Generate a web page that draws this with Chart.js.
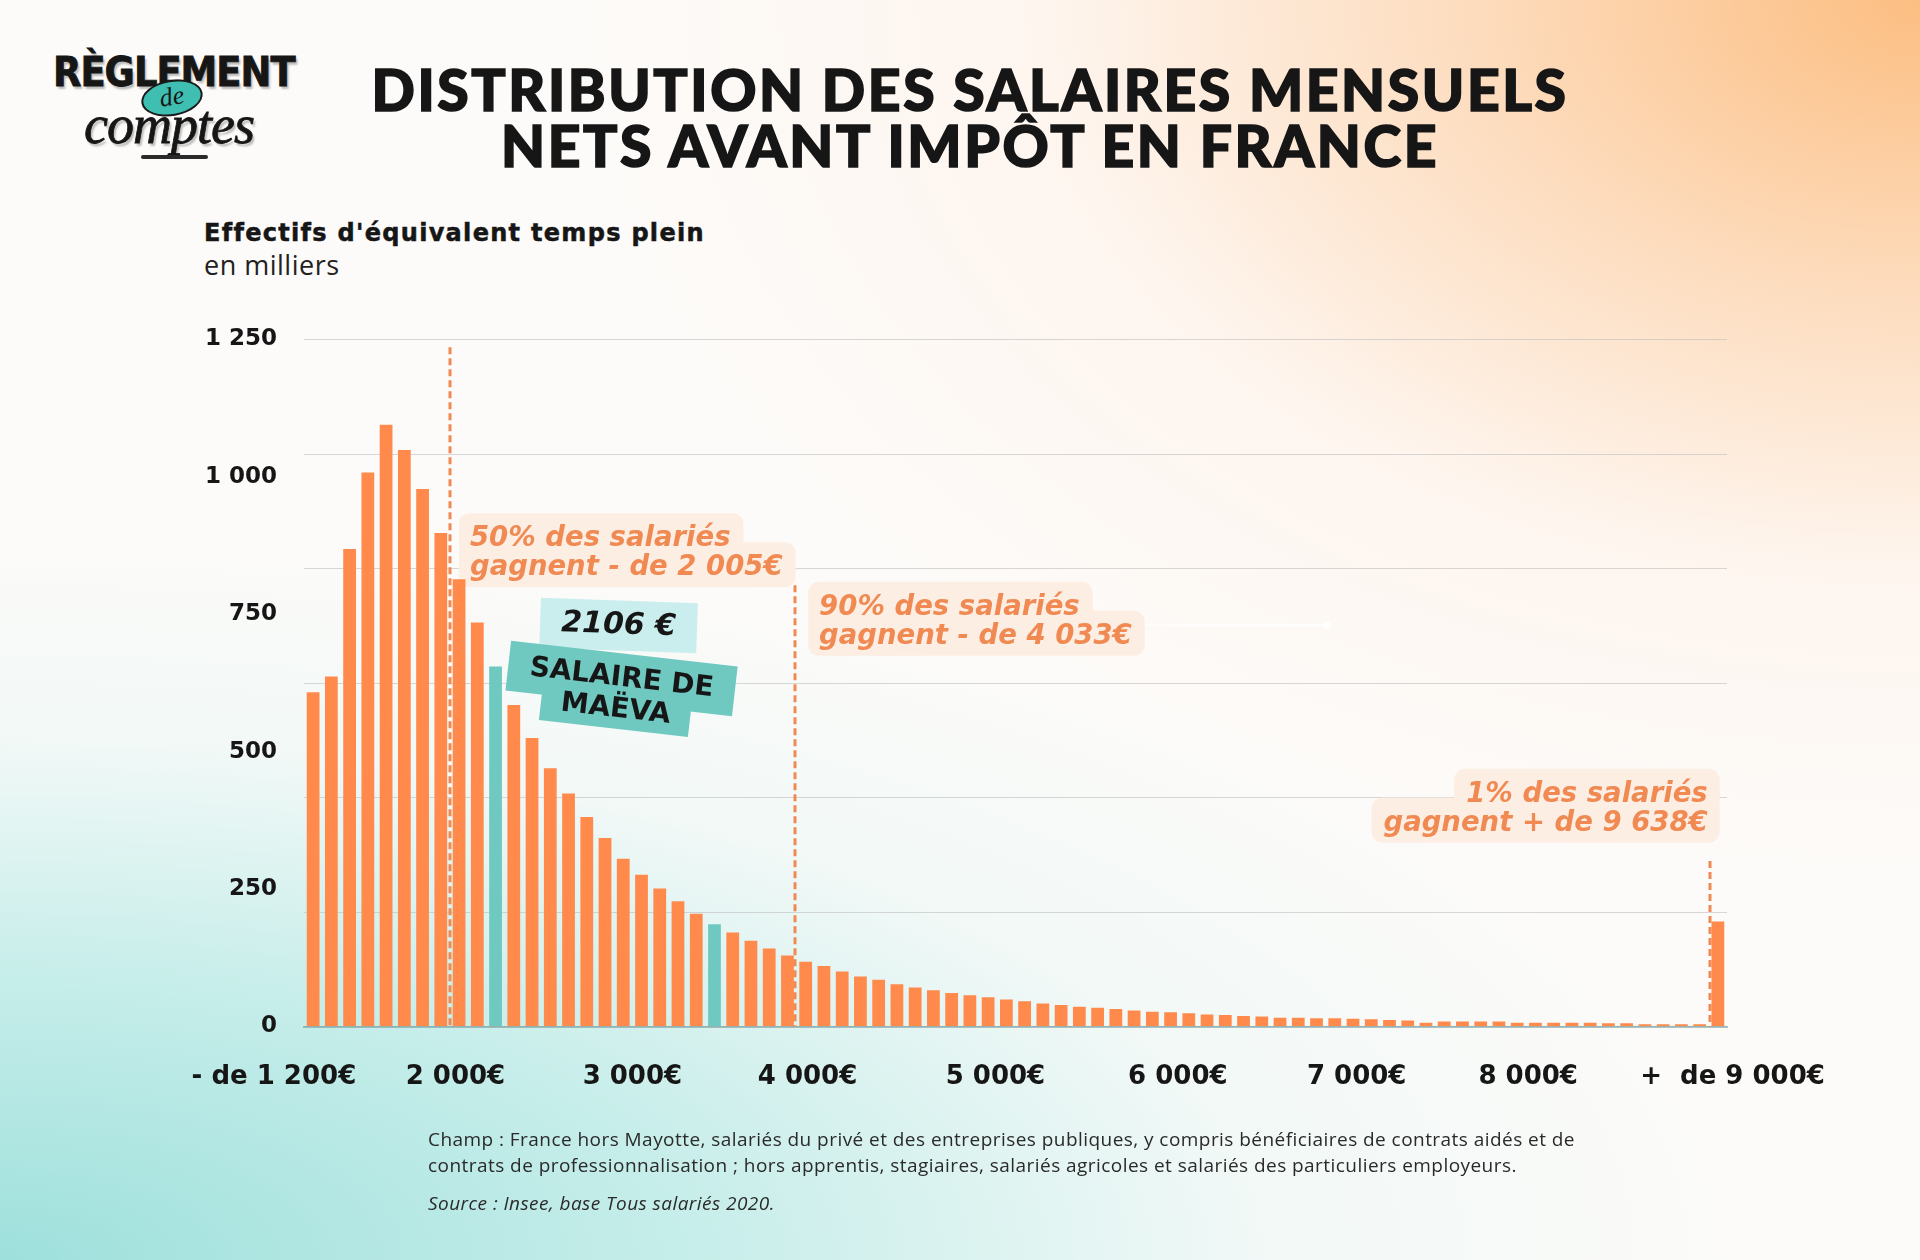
<!DOCTYPE html>
<html lang="fr">
<head>
  <title>Distribution des salaires mensuels nets avant impôt en France</title>
  <meta charset="UTF-8">
  <script src="https://cdn.jsdelivr.net/npm/chart.js@4.4.1/dist/chart.umd.min.js"></script>

  <style>
    * {
      margin: 0;
      padding: 0;
      box-sizing: border-box;
    }

    html, body {
      width: 1920px;
      height: 1260px;
      overflow: hidden;
    }

    body {
      position: relative;
      font-family: 'DejaVu Sans', sans-serif;
      color: #161616;
      background:
        radial-gradient(ellipse 1350px 880px at 100% 0%, rgba(252,190,130,1) 0%, rgba(253,212,174,0.8) 33%, rgba(255,236,222,0.38) 65%, rgba(255,255,255,0) 100%),
        radial-gradient(ellipse 1800px 740px at 0% 100%, rgba(158,224,220,1) 0%, rgba(184,234,230,0.8) 38%, rgba(220,244,243,0.35) 70%, rgba(255,255,255,0) 100%),
        #fdfbf9;
    }

    #chartCanvas {
      position: absolute;
      left: 0;
      top: 0;
    }

    /* logo */
    .logo-top {
      position: absolute;
      left: 53px;
      top: 52px;
      font-family: 'DejaVu Sans Condensed', 'Liberation Sans Narrow', sans-serif;
      font-weight: bold;
      font-size: 41px;
      letter-spacing: -1px;
      line-height: 1;
      -webkit-text-stroke: 0.8px #161616;
      text-shadow: 2px 3px 2px rgba(0,0,0,0.25);
    }
    .logo-de {
      position: absolute;
      left: 141px;
      top: 80px;
      width: 62px;
      height: 36px;
      border-radius: 50%;
      background: #3fbfb2;
      border: 2px solid #1a1a1a;
      transform: rotate(-10deg);
      font-family: 'Liberation Serif', serif;
      font-style: italic;
      font-size: 26px;
      line-height: 30px;
      text-align: center;
    }
    .logo-comptes {
      position: absolute;
      left: 84px;
      top: 98px;
      font-family: 'Liberation Serif', serif;
      font-style: italic;
      font-size: 54px;
      line-height: 1;
      letter-spacing: -1px;
      -webkit-text-stroke: 0.8px #161616;
      text-shadow: 2px 3px 2px rgba(0,0,0,0.25);
    }
    .logo-swoosh {
      position: absolute;
      left: 141px;
      top: 155px;
      width: 67px;
      height: 4px;
      border-radius: 3px;
      background: #2a2a2a;
    }

    h1 {
      position: absolute;
      left: 20px;
      top: 61px;
      width: 1900px;
      text-align: center;
      font-family: 'Lato', sans-serif;
      font-weight: 900;
      font-size: 57px;
      line-height: 56px;
      letter-spacing: 2.6px;
      -webkit-text-stroke: 1.6px #161616;
    }

    .axis-title {
      position: absolute;
      left: 204px;
      top: 219px;
      font-weight: bold;
      font-size: 24px;
      letter-spacing: 1.3px;
      line-height: 28px;
      -webkit-text-stroke: 0.5px #161616;
    }
    .axis-unit {
      position: absolute;
      left: 204px;
      top: 251px;
      font-family: 'Open Sans', sans-serif;
      font-size: 27px;
      letter-spacing: 0.5px;
      line-height: 28px;
      color: #222;
    }

    .footnote {
      position: absolute;
      left: 428px;
      top: 1126px;
      font-family: 'Open Sans', sans-serif;
      font-size: 19px;
      letter-spacing: 0.45px;
      line-height: 26px;
      color: #2a2a2a;
    }
    .footnote .source {
      margin-top: 12px;
      font-style: italic;
    }
  </style>
</head>
<body>

  <div class="logo-top">RÈGLEMENT</div>
  <div class="logo-de">de</div>
  <div class="logo-comptes">comptes</div>
  <div class="logo-swoosh"></div>

  <h1>DISTRIBUTION DES SALAIRES MENSUELS<br>NETS AVANT IMPÔT EN FRANCE</h1>

  <div class="axis-title">Effectifs d'équivalent temps plein</div>
  <div class="axis-unit">en milliers</div>

  <canvas id="chartCanvas" width="1920" height="1260"></canvas>

  <div class="footnote">
    Champ : France hors Mayotte, salariés du privé et des entreprises publiques, y compris bénéficiaires de contrats aidés et de<br>
    contrats de professionnalisation ; hors apprentis, stagiaires, salariés agricoles et salariés des particuliers employeurs.
    <div class="source">Source : Insee, base Tous salariés 2020.</div>
  </div>

  <script>

    // salary bins (100 € wide) - first is "less than 1 200", last is "more than 9 000"
    var bins = ['- de 1 200', '1 200', '1 300', '1 400', '1 500', '1 600', '1 700', '1 800', '1 900',
      '2 000', '2 100', '2 200', '2 300', '2 400', '2 500', '2 600', '2 700', '2 800', '2 900',
      '3 000', '3 100', '3 200', '3 300', '3 400', '3 500', '3 600', '3 700', '3 800', '3 900',
      '4 000', '4 100', '4 200', '4 300', '4 400', '4 500', '4 600', '4 700', '4 800', '4 900',
      '5 000', '5 100', '5 200', '5 300', '5 400', '5 500', '5 600', '5 700', '5 800', '5 900',
      '6 000', '6 100', '6 200', '6 300', '6 400', '6 500', '6 600', '6 700', '6 800', '6 900',
      '7 000', '7 100', '7 200', '7 300', '7 400', '7 500', '7 600', '7 700', '7 800', '7 900',
      '8 000', '8 100', '8 200', '8 300', '8 400', '8 500', '8 600', '8 700', '+ de 9 000'];

    // full-time equivalent headcount, in thousands
    var effectifs = [608, 637, 869, 1008, 1095, 1049, 978, 898, 814, 735,
      655, 585, 525, 470, 424, 381, 343, 305, 276, 251,
      228, 205, 186, 171, 156, 142, 129, 118, 110, 100,
      91, 85, 77, 71, 66, 61, 57, 53, 49, 46,
      42, 39, 36, 34, 32, 29, 27, 26, 24, 22,
      21, 19, 18, 16, 16, 15, 15, 14, 13, 12,
      11, 7, 9, 9, 9, 9, 7, 7, 7, 7,
      7, 6, 6, 4, 4, 4, 4, 191];

    var highlighted = [10, 22];   // bars drawn in teal

    var yLabelValues = [0, 250, 500, 750, 1000, 1250];
    var yMax = 1250;
    var gridDivisions = 6;

    var xTickLabels = ['- de 1 200€', '2 000€', '3 000€', '4 000€', '5 000€', '6 000€', '7 000€', '8 000€', '+  de 9 000€'];
    var xTickPos = [-2.15, 7.8, 17.5, 27.1, 37.4, 47.4, 57.2, 66.6, 77.8];

    // dashed reference lines: bar position, top value
    var refLines = [
      { x: 7.5, top: 1236 },
      { x: 26.42, top: 803 },
      { x: 76.55, top: 301 }
    ];

    var notes = [
      { line: 0, dx: 20, y: 874, align: 'left', text: ['50% des salariés', 'gagnent - de 2 005€'] },
      { line: 1, dx: 24, y: 749, align: 'left', text: ['90% des salariés', 'gagnent - de 4 033€'] },
      { line: 2, dx: -2, y: 409, align: 'right', text: ['1% des salariés', 'gagnent + de 9 638€'] }
    ];

    var ORANGE = '#ff8a4b';
    var TEAL = '#70c9c1';
    var NOTE_TEXT = '#f08a52';
    var NOTE_BG = '#fdeee4';

    var barColors = effectifs.map(function (v, i) {
      return highlighted.indexOf(i) >= 0 ? TEAL : ORANGE;
    });

    function fmt(v) {
      return String(v).replace(/\B(?=(\d{3})+(?!\d))/g, ' ');
    }

    function isLabelValue(v) {
      return yLabelValues.some(function (l) { return Math.abs(l - v) < 0.01; });
    }

    function isGridValue(v) {
      var step = yMax / gridDivisions;
      var k = Math.round(v / step);
      return Math.abs(k * step - v) < 0.01;
    }

    /************************************************************************
                          annotations (dashed lines, boxes)
    *************************************************************************/
    function drawNotes(chart, pass) {
      var ctx = chart.ctx;
      var xs = chart.scales.xLab;
      var ys = chart.scales.y;
      ctx.save();
      ctx.font = 'italic bold 27.5px "DejaVu Sans"';
      notes.forEach(function (n) {
        var x = xs.getPixelForValue(refLines[n.line].x) + n.dx;
        var y0 = ys.getPixelForValue(n.y);
        n.text.forEach(function (t, i) {
          var w = ctx.measureText(t).width;
          var base = y0 + i * 29;
          if (pass === 'bg') {
            var bx = n.align === 'right' ? x - w - 12 : x - 11;
            ctx.fillStyle = NOTE_BG;
            ctx.beginPath();
            ctx.roundRect(bx, base - 33, w + 24, 45, 11);
            ctx.fill();
          } else {
            ctx.fillStyle = NOTE_TEXT;
            ctx.textAlign = n.align;
            ctx.textBaseline = 'alphabetic';
            ctx.fillText(t, x, base);
          }
        });
      });
      ctx.restore();
    }

    function drawTag(ctx, cx, cy, w, h, angle, bg, lines, font, lineGap) {
      ctx.save();
      ctx.translate(cx, cy);
      ctx.rotate(angle * Math.PI / 180);
      ctx.fillStyle = bg;
      ctx.fillRect(-w / 2, -h / 2, w, h);
      ctx.fillStyle = '#161616';
      ctx.font = font;
      ctx.textAlign = 'center';
      ctx.textBaseline = 'middle';
      lines.forEach(function (t, i) {
        ctx.fillText(t, 0, (i - (lines.length - 1) / 2) * lineGap);
      });
      ctx.restore();
    }

    var annotate = {
      id: 'annotate',
      beforeDatasetsDraw: function (chart) {
        drawNotes(chart, 'bg');
      },
      afterDatasetsDraw: function (chart) {
        var ctx = chart.ctx;
        var xs = chart.scales.xLab;
        var ys = chart.scales.y;
        var bottom = chart.chartArea.bottom;

        ctx.save();
        ctx.strokeStyle = '#f08a52';
        ctx.lineWidth = 3;
        ctx.setLineDash([7, 4]);
        refLines.forEach(function (l) {
          var x = Math.round(xs.getPixelForValue(l.x));
          ctx.beginPath();
          ctx.moveTo(x, ys.getPixelForValue(l.top));
          ctx.lineTo(x, bottom);
          ctx.stroke();
        });
        ctx.restore();

        // faint white streak next to the 90% note
        var sx = xs.getPixelForValue(refLines[1].x);
        ctx.save();
        ctx.strokeStyle = 'rgba(255,255,255,0.85)';
        ctx.lineWidth = 2;
        ctx.beginPath();
        ctx.moveTo(sx + 350, ys.getPixelForValue(730));
        ctx.lineTo(sx + 530, ys.getPixelForValue(730));
        ctx.stroke();
        ctx.fillStyle = 'rgba(255,255,255,0.9)';
        ctx.beginPath();
        ctx.arc(sx + 532, ys.getPixelForValue(730), 4, 0, Math.PI * 2);
        ctx.fill();
        ctx.restore();

        drawNotes(chart, 'text');

        // Maëva tags, anchored on her bar
        var mx = xs.getPixelForValue(highlighted[0]);
        var my = ys.getPixelForValue(effectifs[highlighted[0]]);
        drawTag(ctx, mx + 123, my - 41, 157, 50, 2, '#c9eeed', ['2106 €'],
          'italic bold 30px "DejaVu Sans"', 0);
        drawTag(ctx, mx + 126, my + 12, 228, 50, 6.5, TEAL, ['SALAIRE DE'],
          'bold 28px "DejaVu Sans"', 0);
        drawTag(ctx, mx + 120, my + 43, 150, 38, 6.5, TEAL, ['MAËVA'],
          'bold 28px "DejaVu Sans"', 0);
      }
    };

    /************************************************************************
                                  Chart
    *************************************************************************/
    Chart.defaults.font.family = "'DejaVu Sans', sans-serif";
    Chart.defaults.color = '#161616';

    var ctxChart = document.getElementById('chartCanvas').getContext('2d');
    var salaryChart = new Chart(ctxChart, {
      type: 'bar',
      data: {
        labels: bins,
        datasets: [{
          label: 'Effectifs (milliers)',
          data: effectifs,
          backgroundColor: barColors,
          borderWidth: 0,
          barPercentage: 0.7,
          categoryPercentage: 1.0
        }]
      },
      plugins: [annotate],
      options: {
        responsive: false,
        animation: false,
        devicePixelRatio: 1,
        layout: {
          padding: { top: 339.5, right: 193, bottom: 0, left: 0 }
        },
        plugins: {
          legend: { display: false },
          tooltip: { enabled: false }
        },
        scales: {
          x: {
            display: false,
            offset: true
          },
          xLab: {
            type: 'linear',
            position: 'bottom',
            offset: false,
            min: -0.5,
            max: 77.5,
            grid: { display: false, drawTicks: false, offset: false },
            border: { display: true, color: 'rgba(110,150,150,0.55)', width: 2 },
            afterBuildTicks: function (scale) {
              scale.ticks = xTickPos.map(function (v) { return { value: v }; });
            },
            afterFit: function (scale) {
              scale.height = 233.5;
            },
            ticks: {
              autoSkip: false,
              maxRotation: 0,
              padding: 35,
              font: { size: 26, weight: 'bold' },
              callback: function (v, i) { return xTickLabels[i]; }
            }
          },
          y: {
            min: 0,
            max: yMax,
            afterBuildTicks: function (scale) {
              var vals = [];
              for (var k = 0; k <= gridDivisions; k++) vals.push(k * yMax / gridDivisions);
              yLabelValues.forEach(function (v) {
                if (!vals.some(function (g) { return Math.abs(g - v) < 0.01; })) vals.push(v);
              });
              vals.sort(function (a, b) { return a - b; });
              scale.ticks = vals.map(function (v) { return { value: v }; });
            },
            afterFit: function (scale) {
              scale.width = 304;
            },
            grid: {
              drawTicks: false,
              lineWidth: 1,
              color: function (c) {
                return isGridValue(c.tick.value) ? 'rgba(190,190,190,0.6)' : 'rgba(0,0,0,0)';
              }
            },
            border: { display: false },
            ticks: {
              autoSkip: false,
              padding: 27,
              font: { size: 23, weight: 'bold' },
              callback: function (v) {
                return isLabelValue(v) ? fmt(Math.round(v)) : '';
              }
            }
          }
        }
      }
    });

  </script>
</body>
</html>
